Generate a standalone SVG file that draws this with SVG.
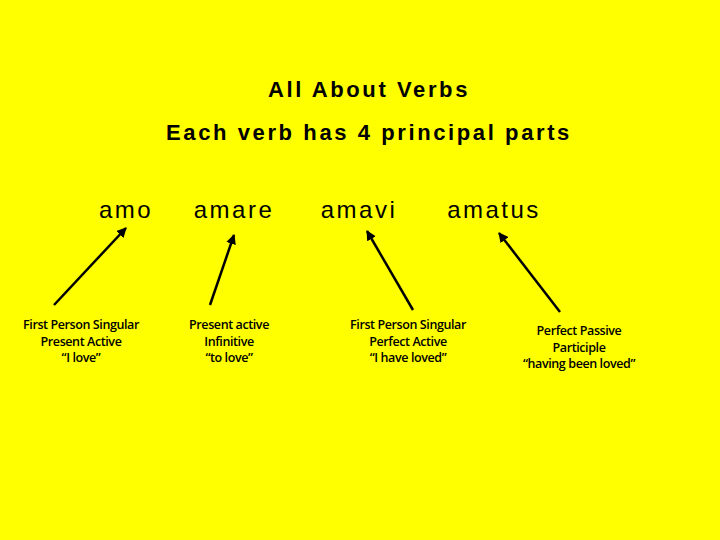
<svg xmlns="http://www.w3.org/2000/svg" width="720" height="540" viewBox="0 0 720 540">
<defs>
<style>
.t{font-family:"Liberation Sans",Arial,sans-serif;font-weight:bold;font-size:22px;fill:#000;text-anchor:middle;letter-spacing:2.6px}
.v{font-family:"Liberation Sans",Arial,sans-serif;font-size:24px;fill:#000;text-anchor:middle;letter-spacing:2.5px}
.l{font-family:"Open Sans","Liberation Sans",sans-serif;font-weight:600;font-size:12.5px;fill:#000;text-anchor:middle;letter-spacing:-0.4px}
.c{stroke:#000;stroke-width:2.5;fill:none;marker-end:url(#ah)}
</style>
<marker id="ah" viewBox="0 0 10 10" refX="9" refY="5" markerWidth="4" markerHeight="4" orient="auto"><path d="M0,0L10,5L0,10z" fill="#000"/></marker>
</defs>
<rect width="720" height="540" fill="#FFFF00"/>
<g id="title"><text class="t" x="369" y="97">All About Verbs</text><text class="t" x="369" y="140">Each verb has 4 principal parts</text></g>
<g id="amo"><text class="v" x="126" y="218">amo</text></g>
<g id="amare"><text class="v" x="234" y="218">amare</text></g>
<g id="amavi"><text class="v" x="359" y="218">amavi</text></g>
<g id="amatus"><text class="v" x="494" y="218">amatus</text></g>
<g id="n1"><text class="l" x="81" y="329">First Person Singular</text><text class="l" x="81" y="346">Present Active</text><text class="l" x="81" y="362">“I love”</text></g>
<g id="n2"><text class="l" x="229" y="329">Present active</text><text class="l" x="229" y="346">Infinitive</text><text class="l" x="229" y="362">“to love”</text></g>
<g id="n3"><text class="l" x="408" y="329">First Person Singular</text><text class="l" x="408" y="346">Perfect Active</text><text class="l" x="408" y="362">“I have loved”</text></g>
<g id="n4"><text class="l" x="579" y="335">Perfect Passive</text><text class="l" x="579" y="352">Participle</text><text class="l" x="579" y="368">“having been loved”</text></g>
<g id="connectors">
<line class="c" x1="54" y1="305" x2="126" y2="228"/>
<line class="c" x1="210" y1="305" x2="234" y2="235"/>
<line class="c" x1="413" y1="310" x2="367" y2="231"/>
<line class="c" x1="560" y1="312" x2="499" y2="233"/>
</g>
</svg>
